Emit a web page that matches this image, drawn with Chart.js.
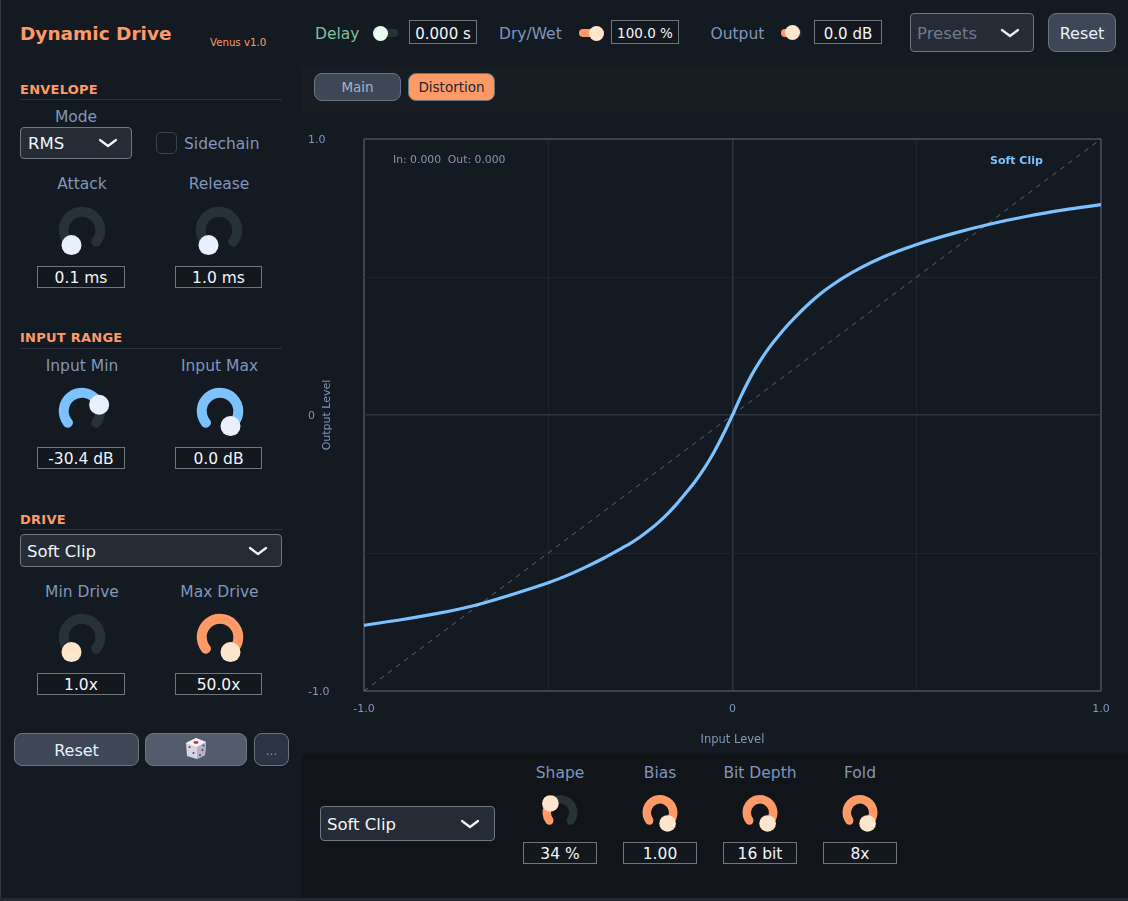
<!DOCTYPE html>
<html><head><meta charset="utf-8"><title>Dynamic Drive</title>
<script src="https://cdn.jsdelivr.net/npm/chart.js@4"></script>
<style>
html,body{margin:0;padding:0;background:#141a21;overflow:hidden}
#app{position:relative;width:1128px;height:901px;background:#141a21;font-family:"DejaVu Sans",sans-serif;overflow:hidden}
#app div,#app span{position:absolute;white-space:nowrap;box-sizing:border-box}
canvas{position:absolute}
</style></head><body><div id="app"></div>
<script>
// ---- chart data ----
const inputLevels = [-1,-0.9,-0.8,-0.7,-0.6,-0.5,-0.45,-0.4,-0.35,-0.3,-0.275,-0.25,-0.225,-0.2,-0.175,-0.15,-0.125,-0.1,-0.075,-0.05,-0.025,0,0.025,0.05,0.075,0.1,0.125,0.15,0.175,0.2,0.225,0.25,0.275,0.3,0.35,0.4,0.45,0.5,0.6,0.7,0.8,0.9,1];
const softClipOutput = [-0.762,-0.742,-0.719,-0.69,-0.651,-0.608,-0.582,-0.552,-0.519,-0.482,-0.463,-0.441,-0.416,-0.388,-0.356,-0.32,-0.28,-0.238,-0.19,-0.134,-0.07,0,0.0738,0.14,0.196,0.245,0.287,0.326,0.361,0.394,0.424,0.451,0.4745,0.497,0.535,0.567,0.594,0.618,0.658,0.692,0.72,0.743,0.762];
const identityInput = [-1,1];
const identityOutput = [-1,1];
const axisTickValues = [-1,-0.5,0,0.5,1];
const axisTickLabels = {"-1":"-1.0","0":"0","1":"1.0"};
const xAxisTitle = "Input Level";
const yAxisTitle = "Output Level";
const curveName = "Soft Clip";
// ---- knobs ----
const knobNames  = ["Attack","Release","Input Min","Input Max","Min Drive","Max Drive","Shape","Bias","Bit Depth","Fold"];
const knobReadouts = ["0.1 ms","1.0 ms","-30.4 dB","0.0 dB","1.0x","50.0x","34 %","1.00","16 bit","8x"];
const knobFractions = [0,0,0.74,1,0,1,0.34,1,1,1];
const knobAccents = ["#7cc2ff","#7cc2ff","#7cc2ff","#7cc2ff","#ff9a66","#ff9a66","#ff9a66","#ff9a66","#ff9a66","#ff9a66"];
const knobThumbs  = ["#e8f0fe","#e8f0fe","#e8f0fe","#e8f0fe","#ffe5cc","#ffe5cc","#ffe5cc","#ffe5cc","#ffe5cc","#ffe5cc"];

const app = document.getElementById('app');
const LBL="#7f96bd", ORG="#ff9a66", WHT="#f2f5fa", LF=15.5;
function box(x,y,w,h,css){const d=document.createElement('div');d.style.cssText=`left:${x}px;top:${y}px;width:${w}px;height:${h}px;${css||''}`;app.appendChild(d);return d;}
function text(s,x,y,size,color,opt){opt=opt||{};const d=document.createElement('span');d.textContent=s;
 const tx=opt.left?'0':'-50%';
 d.style.cssText=`left:${x}px;top:${y}px;font-size:${size}px;color:${color};font-weight:${opt.bold?700:400};letter-spacing:${opt.ls||0}px;line-height:1;transform:translate(${tx},-50%);`;app.appendChild(d);return d;}
function chevron(x,y){const s=document.createElementNS('http://www.w3.org/2000/svg','svg');
 s.setAttribute('width','20');s.setAttribute('height','10');s.setAttribute('viewBox','0 0 20 10');
 s.style.cssText=`position:absolute;left:${x-10}px;top:${y-5}px`;
 s.innerHTML='<path d="M2 2 L10 8 L18 2" fill="none" stroke="#f2f5fa" stroke-width="2.2" stroke-linecap="round" stroke-linejoin="round"/>';app.appendChild(s);}
function select(s,x,y,w,h,chevX,tc,tx){box(x,y,w,h,'background:#252c36;border:1px solid #6f7782;border-radius:4px');text(s,tx||x+8,y+h/2+1,16.5,tc||WHT,{left:true});chevron(chevX,y+h/2);}
function readout(s,x,y,w,h,fs){box(x,y,w,h,'border:1px solid #70767f;background:#13181e');text(s,x+w/2,y+h/2+1.5,fs||15,WHT);}

// panels
box(0,0,1,901,'background:#343a40');
box(301,67,827,46,'background:#181d24');
box(301,754,827,144,'background:#11151a');
box(0,898,1128,3,'background:#232930');

// header
text("Dynamic Drive",20,33.5,18.5,ORG,{left:true,bold:true});
text("Venus v1.0",210,43,10.2,ORG,{left:true});

// section headers
[["ENVELOPE",89,99],["INPUT RANGE",337,348],["DRIVE",519,529]].forEach(([s,y,l])=>{
 text(s,20,y,13,ORG,{left:true,bold:true,ls:.25});box(20,l,262,1,'background:#2a3039');});

// envelope controls
text("Mode",76,117.5,LF,LBL);
select("RMS",20,127,112,32,108);
box(156,132,21,22,'border:1.5px solid #39424f;border-radius:5px');
text("Sidechain",184,144.5,LF,LBL,{left:true});

// drive select
select("Soft Clip",20,534,262,33,258,WHT,27);
select("Soft Clip",320,806,175,35,470,WHT,327);

// buttons
function btn(s,x,y,w,h,bg,c,fs,r){box(x,y,w,h,`background:${bg};border:1.5px solid #6a7380;border-radius:${r||8}px`);if(s)text(s,x+w/2,y+h/2+1,fs||16,c);}
btn("Reset",14,733,125,33,"#3e4755","#e8f0fe",16);
btn("",145,733,102,33,"#525c6c");
btn("...",254,733,35,33,"#2b3442","#7f8ea6",12);
const dice=document.createElementNS('http://www.w3.org/2000/svg','svg');
dice.setAttribute('width','22');dice.setAttribute('height','23');dice.setAttribute('viewBox','0 0 22 23');
dice.style.cssText='position:absolute;left:185px;top:736.5px';
dice.innerHTML='<path d="M11 1 L21 5 L20 18 L12 22 L2 19 L1 6 Z" fill="#d9d4e2"/><path d="M11 1 L21 5 L12 10 L1 6 Z" fill="#f3f0f7"/><path d="M12 10 L21 5 L20 18 L12 22 Z" fill="#b7b0c8"/><ellipse cx="11" cy="5.5" rx="2.6" ry="1.4" fill="#e0323c"/><circle cx="4.5" cy="10" r="1" fill="#4a4068"/><circle cx="8.5" cy="16" r="1" fill="#4a4068"/><circle cx="15" cy="18" r="1" fill="#4a4068"/><circle cx="17.5" cy="13" r="1" fill="#4a4068"/><circle cx="18.5" cy="8.5" r="1" fill="#4a4068"/>';
app.appendChild(dice);

// top sliders
text("Delay",315,34.5,LF,"#7fbf9a",{left:true});
box(380,29,18,8,'background:#263238;border-radius:4px');
box(372.5,25.5,15,15,'background:#eafff0;border-radius:50%');
readout("0.000 s",409,20,68,24);
text("Dry/Wet",499,34.5,LF,LBL,{left:true});
box(579,29,20,8,`background:${ORG};border-radius:4px`);
box(589,25.5,15,15,'background:#ffe5cc;border-radius:50%');
readout("100.0 %",611,20,68,24,13.5);
text("Output",710.5,34.5,LF,LBL,{left:true});
box(781,29,21,8,'background:linear-gradient(90deg,#ff9a66 50%,#263238 50%);border-radius:4px');
box(784.5,25,15,15,'background:#ffe5cc;border-radius:50%');
readout("0.0 dB",814,20,68,24);
select("Presets",910,13,124,39,1010,"#6f7b8c",917);
btn("Reset",1048,13,68,39,"#3e4755","#e8f0fe",16);

// tabs
btn("Main",314,73,87,28,"#3e4755","#a3b3cb",13.5);
btn("Distortion",408,73,87,28,ORG,"#20262e",13.5);

// ---- transfer curve ----
const cv=document.createElement('canvas');cv.width=827;cv.height=635;cv.style.cssText='left:301px;top:115px;width:827px;height:635px';app.appendChild(cv);
const toXY=(xs,ys)=>xs.map((x,i)=>({x,y:ys[i]}));
const tickColour=c=>{const v=c.tick.value;return Math.abs(v)===1?'#3b4452':(v===0?'#2e3440':'#1f252d');};
const tickWidth=c=>Math.abs(c.tick.value)===1?2:(c.tick.value===0?1.5:1);
const tickFmt=v=>axisTickLabels[String(v)]||'';
const tickFont={family:'"DejaVu Sans"',size:11};
Chart.defaults.animation=false;
new Chart(cv,{type:'scatter',
 data:{datasets:[
  {label:'Identity',data:toXY(identityInput,identityOutput),showLine:true,borderColor:'rgba(255,255,255,0.32)',borderWidth:1,borderDash:[5,5],pointRadius:0},
  {label:curveName,data:toXY(inputLevels,softClipOutput),showLine:true,borderColor:'#7cc2ff',borderWidth:3.2,pointRadius:0,cubicInterpolationMode:'monotone',clip:false}
 ]},
 options:{responsive:false,devicePixelRatio:1,animation:false,
  layout:{padding:{left:7,top:24,right:27,bottom:3}},
  plugins:{legend:{display:false},tooltip:{enabled:false}},
  scales:{
   x:{type:'linear',min:-1,max:1,afterBuildTicks:s=>{s.ticks=axisTickValues.map(value=>({value}));},
      afterFit:s=>{s.height=56;},
      grid:{color:tickColour,lineWidth:tickWidth,drawTicks:false},border:{display:false},
      ticks:{callback:tickFmt,color:LBL,font:tickFont,padding:12,maxRotation:0,autoSkip:false,includeBounds:true},
      title:{display:true,text:xAxisTitle,color:LBL,font:{family:'"DejaVu Sans"',size:11.5},padding:{top:0,bottom:0}}},
   y:{type:'linear',min:-1,max:1,afterBuildTicks:s=>{s.ticks=axisTickValues.map(value=>({value}));},
      afterFit:s=>{s.width=56;},
      grid:{color:tickColour,lineWidth:tickWidth,drawTicks:false},border:{display:false},
      ticks:{callback:tickFmt,color:LBL,font:tickFont,padding:8,crossAlign:'far',autoSkip:false,labelOffset:1},
      title:{display:true,text:yAxisTitle,color:LBL,font:{family:'"DejaVu Sans"',size:11},padding:{top:13,bottom:0}}}
  }}});
text("In: 0.000  Out: 0.000",393,160,10.8,"#8296b8",{left:true}).style.whiteSpace='pre';
text(curveName,990,160,11,"#7cc2ff",{left:true,bold:true});

// ---- knobs (doughnuts) ----
const KNOB_ARC=290, KNOB_START=-145;
const thumbPlugin={id:'thumb',afterDatasetsDraw(chart,a,o){
 const arc=chart.getDatasetMeta(0).data[0],ctx=chart.ctx;
 const ang=(KNOB_START+KNOB_ARC*o.value-90)*Math.PI/180,r=(arc.innerRadius+arc.outerRadius)/2;
 ctx.save();ctx.fillStyle=o.color;ctx.beginPath();ctx.arc(arc.x+r*Math.cos(ang),arc.y+r*Math.sin(ang),o.size,0,7);ctx.fill();ctx.restore();}};
function knob(i,cx,cy,labelY,boxX,boxY,boxW,boxH,R,T,th){
 text(knobNames[i],cx,labelY+1,LF,LBL);
 readout(knobReadouts[i],boxX,boxY,boxW,boxH,15.5);
 const c=document.createElement('canvas');c.width=80;c.height=80;c.style.cssText='width:80px;height:80px';app.appendChild(c);
 const f=knobFractions[i];
 const ch=new Chart(c,{type:'doughnut',plugins:[thumbPlugin],
  data:{labels:['value','rest'],datasets:[{data:[f,1-f],backgroundColor:[knobAccents[i],'#263238'],borderWidth:0,borderRadius:T/2,spacing:0}]},
  options:{responsive:false,devicePixelRatio:1,animation:false,events:[],rotation:KNOB_START,circumference:KNOB_ARC,radius:R,cutout:((R-T)/R*100)+'%',
   plugins:{legend:{display:false},tooltip:{enabled:false},thumb:{value:f,color:knobThumbs[i],size:th}}}});
 const arc=ch.getDatasetMeta(0).data[0];
 c.style.left=(cx-arc.x)+'px';c.style.top=(cy-arc.y)+'px';
}
knob(0,82,230,183.5,37,266,88,22,23.3,10,10);
knob(1,219,230,183.5,175,266,87,22,23.3,10,10);
knob(2,82,411.6,365.5,37,447,88,22,23.3,10,10);
knob(3,219.5,411.6,365.5,175,447,87,22,23.3,10,10);
knob(4,82,637.6,591.5,37,673,88,22,23.3,10,10);
knob(5,219.5,637.6,591.5,175,673,87,22,23.3,10,10);
knob(6,560,813,772.5,523,842,74,22,17.5,8.5,8.3);
knob(7,660,813,772.5,623,842,74,22,17.5,8.5,8.3);
knob(8,760,813,772.5,723,842,74,22,17.5,8.5,8.3);
knob(9,860,813,772.5,823,842,74,22,17.5,8.5,8.3);
</script></body></html>
